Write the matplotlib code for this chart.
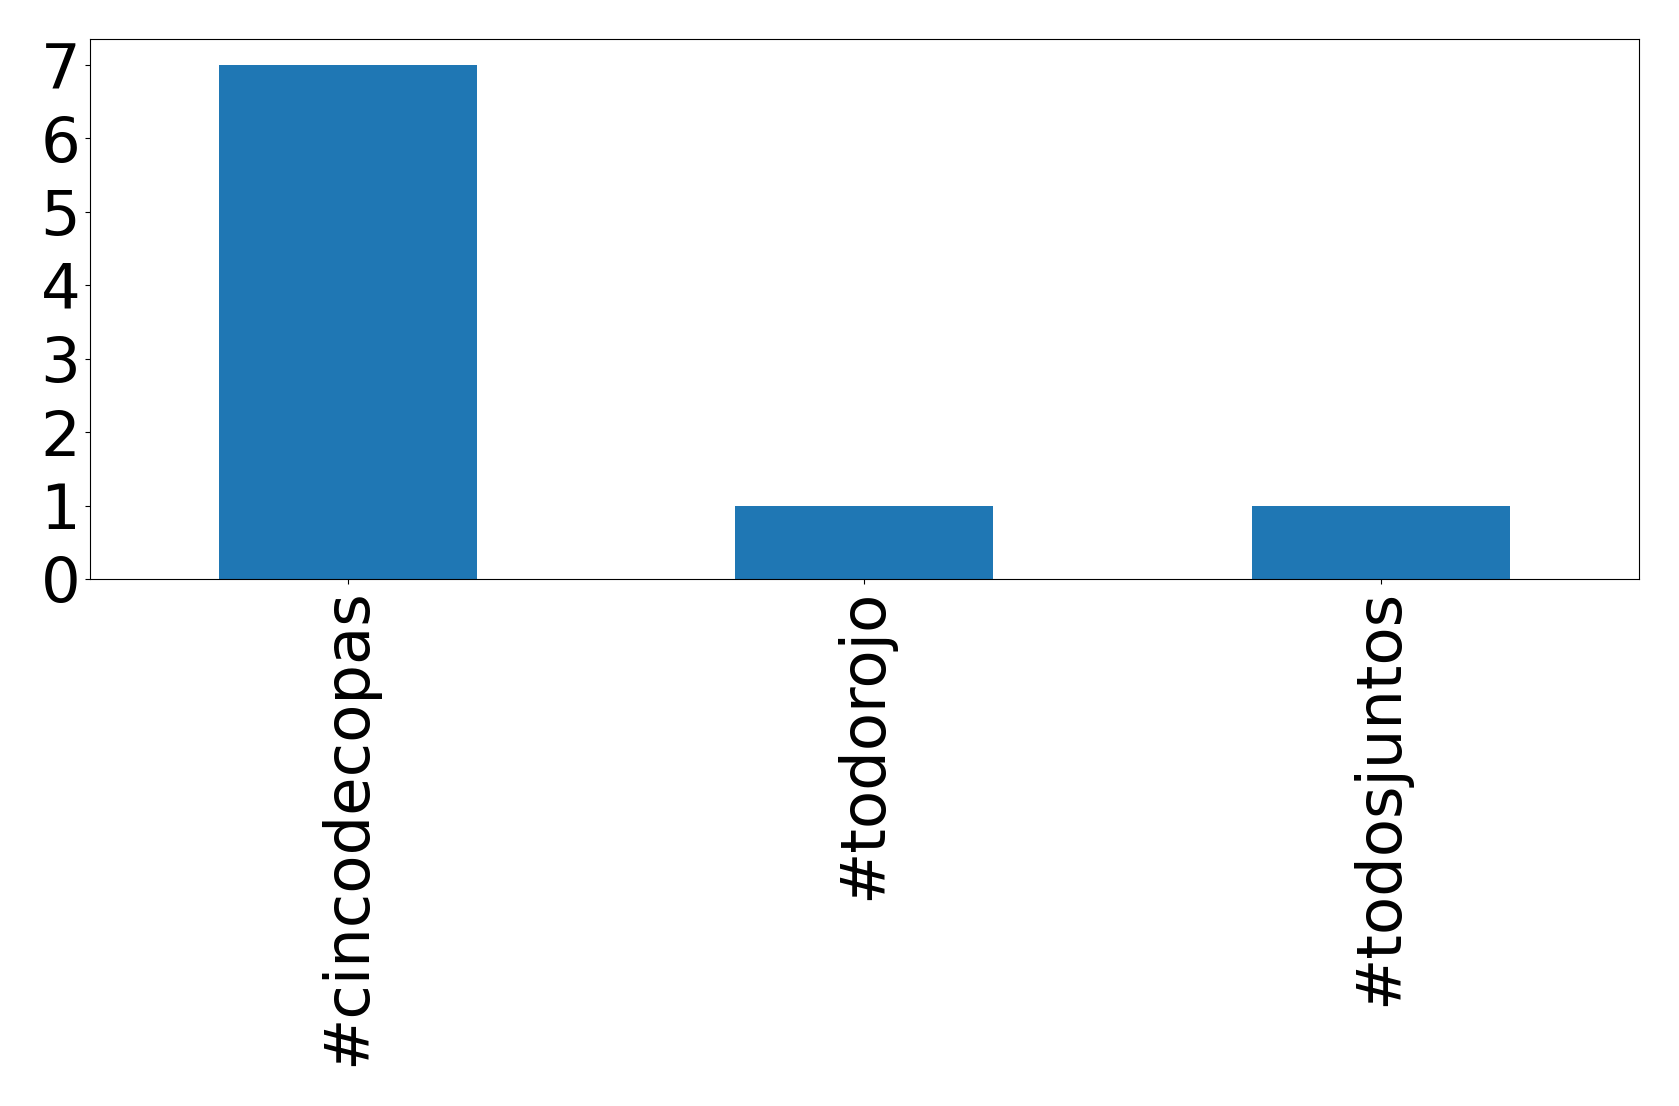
import matplotlib
matplotlib.use('Agg')
import matplotlib.pyplot as plt
import pandas as pd

# Hashtag counts
hashtags = ['#cincodecopas', '#todorojo', '#todosjuntos']
counts = [7, 1, 1]

series = pd.Series(counts, index=hashtags)

fig, ax = plt.subplots(figsize=(16.79, 11.06), dpi=100)
series.plot(kind='bar', ax=ax, color='#1f77b4', fontsize=45)
ax.set_ylim(0, 7.35)
ax.set_yticks(range(0, 8))
ax.tick_params(axis='both', labelsize=45)

fig.subplots_adjust(left=0.0536, right=0.976, top=0.9645, bottom=0.4765)
fig.savefig('out.png', dpi=100)
